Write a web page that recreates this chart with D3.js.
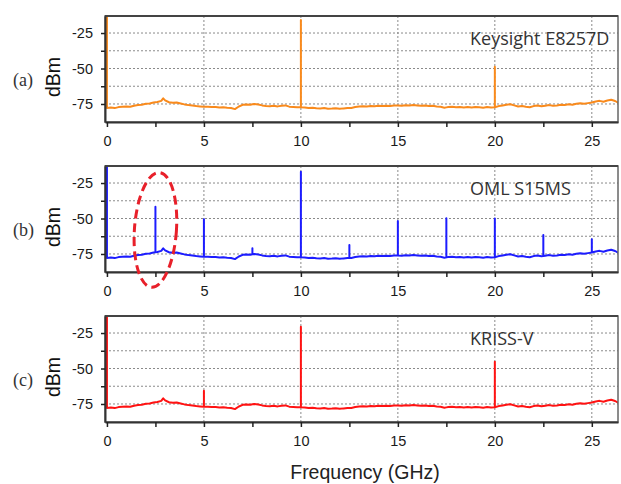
<!DOCTYPE html>
<html>
<head>
<meta charset="utf-8">
<script src="https://cdn.jsdelivr.net/npm/d3@7"></script>
<style>
  body { margin: 0; background: #fff; }
  svg { display: block; }
</style>
</head>
<body>
<svg id="chart" width="621" height="484"></svg>
<script>
// Spectrum analyser noise floor shared by the three sources: [GHz, dBm]
const noiseFloor = [
  [0.0,-77.8],[0.2,-77.5],[0.4,-77.9],[0.6,-77.2],[0.8,-77.0],[1.0,-76.8],[1.2,-76.9],[1.4,-76.2],
  [1.6,-75.8],[1.8,-75.5],[2.0,-74.9],[2.2,-74.6],[2.4,-74.0],[2.5,-73.8],[2.6,-73.6],[2.8,-72.8],
  [2.9,-71.0],[3.0,-72.5],[3.2,-73.8],[3.4,-74.2],[3.6,-74.0],[3.8,-74.6],[4.0,-75.3],[4.2,-75.8],
  [4.4,-76.1],[4.6,-76.5],[4.8,-76.7],[5.0,-76.9],[5.2,-77.0],[5.4,-77.2],[5.6,-77.1],[5.8,-77.4],
  [6.0,-77.3],[6.2,-77.6],[6.4,-77.8],[6.6,-78.6],[6.8,-76.8],[7.0,-75.6],[7.2,-75.3],[7.4,-75.5],
  [7.5,-75.2],[7.6,-75.0],[7.8,-75.4],[8.0,-76.0],[8.2,-76.4],[8.4,-76.6],[8.6,-76.3],[8.8,-76.7],
  [9.0,-76.2],[9.2,-76.0],[9.4,-76.9],[9.6,-77.1],[9.8,-77.3],[10.0,-77.3],[10.2,-77.5],[10.4,-77.8],
  [10.6,-77.6],[10.8,-78.0],[11.0,-78.1],[11.2,-77.9],[11.4,-78.3],[11.6,-78.2],[11.8,-78.0],[12.0,-78.4],
  [12.2,-78.1],[12.4,-77.9],[12.5,-77.8],[12.6,-77.8],[12.8,-77.2],[13.0,-76.8],[13.2,-76.6],[13.4,-76.7],
  [13.6,-76.4],[13.8,-76.6],[14.0,-76.3],[14.2,-76.5],[14.4,-76.2],[14.6,-76.4],[14.8,-76.1],[15.0,-76.0],
  [15.2,-76.2],[15.4,-75.9],[15.6,-76.1],[15.8,-75.8],[16.0,-76.0],[16.2,-76.2],[16.4,-76.0],[16.6,-76.4],
  [16.8,-76.3],[17.0,-76.7],[17.2,-77.0],[17.4,-77.6],[17.5,-77.4],[17.6,-77.2],[17.8,-77.0],[18.0,-77.3],
  [18.2,-77.1],[18.4,-77.4],[18.6,-77.2],[18.8,-77.5],[19.0,-77.1],[19.2,-77.3],[19.4,-77.6],[19.6,-77.2],
  [19.8,-77.5],[20.0,-77.3],[20.2,-76.5],[20.4,-76.0],[20.6,-75.6],[20.8,-75.2],[21.0,-76.0],[21.2,-76.8],
  [21.4,-76.4],[21.6,-76.9],[21.8,-77.3],[22.0,-76.5],[22.2,-76.1],[22.4,-76.6],[22.5,-76.4],[22.6,-76.2],
  [22.8,-75.8],[23.0,-76.3],[23.2,-76.0],[23.4,-75.6],[23.6,-75.8],[23.8,-75.2],[24.0,-75.5],[24.2,-74.8],
  [24.4,-74.5],[24.6,-74.9],[24.8,-74.4],[25.0,-74.0],[25.2,-73.2],[25.4,-72.8],[25.6,-73.4],[25.8,-72.6],
  [26.0,-72.0],[26.2,-72.9],[26.4,-74.5]
];

// Spectral lines of each source: [GHz, peak dBm]
const keysightSpikes = [[0,-12],[10,-15.8],[20,-48.7]];
const omlSpikes = [[0,-12],[2.5,-41.7],[5,-50.6],[7.5,-71],[10,-17],[12.5,-68.7],
                   [15,-51.8],[17.5,-49.9],[20,-50],[22.5,-61.6],[25,-64.6]];
const krissSpikes = [[0,-12],[5,-65.6],[10,-20.6],[20,-45.2]];

const panelTags = ["(a)", "(b)", "(c)"];
const sourceNames = ["Keysight E8257D", "OML S15MS", "KRISS-V"];
const sourceColors = ["#f98a1c", "#1c1cff", "#ff1212"];
const sourceSpikes = [keysightSpikes, omlSpikes, krissSpikes];

const freqDomain = [-0.1, 26.35];
const levelDomain = [-87.7, -13];
const freqTicks = d3.range(0, 26, 2.5);
const freqGrid = [5, 10, 15, 20, 25];
const levelTicks = [-75, -62.5, -50, -37.5, -25];

const svg = d3.select("#chart");
const plotL = 105, plotR = 618, plotT = 16, plotB = 122, panelStep = 150;

const x = d3.scaleLinear(freqDomain, [plotL, plotR]);
const y = d3.scaleLinear(levelDomain, [plotB, plotT]);

svg.append("defs").append("clipPath").attr("id", "plotClip")
  .append("rect").attr("x", plotL).attr("y", plotT)
  .attr("width", plotR - plotL).attr("height", plotB - plotT);

function buildTrace(spikes) {
  const peakAt = new Map(spikes.map(d => [d[0], d[1]]));
  const pts = [];
  noiseFloor.forEach(([f, v]) => {
    pts.push([f, v]);
    if (peakAt.has(f)) { pts.push([f, peakAt.get(f)]); pts.push([f, v]); }
  });
  return pts;
}

const line = d3.line().x(d => x(d[0])).y(d => y(d[1]));

sourceNames.forEach((name, i) => {
  const g = svg.append("g").attr("transform", `translate(0,${i * panelStep})`);

  // dotted grid
  g.append("g").selectAll("line").data(levelTicks).join("line")
    .attr("x1", plotL).attr("x2", plotR)
    .attr("y1", d => y(d)).attr("y2", d => y(d))
    .attr("stroke", "#8a8a8a").attr("stroke-width", 1).attr("stroke-dasharray", "2,2");
  g.append("g").selectAll("line").data(freqGrid).join("line")
    .attr("y1", plotT).attr("y2", plotB)
    .attr("x1", d => x(d)).attr("x2", d => x(d))
    .attr("stroke", "#8a8a8a").attr("stroke-width", 1).attr("stroke-dasharray", "2,2");

  // spectrum trace
  g.append("path")
    .datum(buildTrace(sourceSpikes[i]))
    .attr("clip-path", "url(#plotClip)")
    .attr("fill", "none")
    .attr("stroke", sourceColors[i])
    .attr("stroke-width", 2)
    .attr("stroke-linejoin", "round")
    .attr("d", line);

  // frame
  g.append("rect").attr("x", plotL).attr("y", plotT)
    .attr("width", plotR - plotL).attr("height", plotB - plotT)
    .attr("fill", "none").attr("stroke", "#666").attr("stroke-width", 1.5);
  g.append("line").attr("x1", plotL).attr("x2", plotR).attr("y1", plotT).attr("y2", plotT)
    .attr("stroke", "#444").attr("stroke-width", 2);

  // axes
  const xAxis = g.append("g").attr("transform", `translate(0,${plotB})`)
    .call(d3.axisBottom(x).tickValues(freqTicks).tickSize(5).tickSizeOuter(0).tickPadding(9)
      .tickFormat(d => d % 5 === 0 ? String(d) : ""));
  const yAxis = g.append("g").attr("transform", `translate(${plotL},0)`)
    .call(d3.axisLeft(y).tickValues(levelTicks).tickSize(4).tickSizeOuter(0).tickPadding(8)
      .tickFormat(d => Number.isInteger(d) ? String(d) : ""));
  [xAxis, yAxis].forEach(a => {
    a.select(".domain").attr("stroke", "#333").attr("stroke-width", 2);
    a.selectAll(".tick line").attr("stroke", "#222").attr("stroke-width", 1.5);
    a.selectAll(".tick text").attr("fill", "#1a1a1a")
      .style("font-family", "'Liberation Sans', Arial, sans-serif").style("font-size", "14.5px");
  });

  // source name
  g.append("text").attr("x", 470).attr("y", 45)
    .attr("fill", "#333")
    .style("font-family", "'Open Sans', 'Noto Sans', sans-serif").style("font-size", "18px")
    .text(name);

  // y label
  g.append("text")
    .attr("transform", `translate(60,${(plotT + plotB) / 2 + 8}) rotate(-90)`)
    .attr("text-anchor", "middle").attr("fill", "#111")
    .style("font-family", "'Liberation Sans', Arial, sans-serif").style("font-size", "19.5px")
    .text("dBm");

  // panel tag
  g.append("text").attr("x", 13).attr("y", 86)
    .attr("fill", "#333")
    .style("font-family", "'Liberation Serif', 'Times New Roman', serif").style("font-size", "18px")
    .text(panelTags[i]);
});

// highlight around the 2.5 GHz line of panel (b)
svg.append("ellipse")
  .attr("cx", x(2.5)).attr("cy", panelStep + y(-58))
  .attr("rx", 21).attr("ry", 57.5)
  .attr("transform", `rotate(4,${x(2.5)},${panelStep + y(-58)})`)
  .attr("fill", "none").attr("stroke", "#e8202a")
  .attr("stroke-width", 3).attr("stroke-dasharray", "9,5");

// x label
svg.append("text").attr("x", 365).attr("y", 479)
  .attr("text-anchor", "middle").attr("fill", "#222")
  .style("font-family", "'Liberation Sans', Arial, sans-serif").style("font-size", "19.5px")
  .text("Frequency (GHz)");
</script>
</body>
</html>
